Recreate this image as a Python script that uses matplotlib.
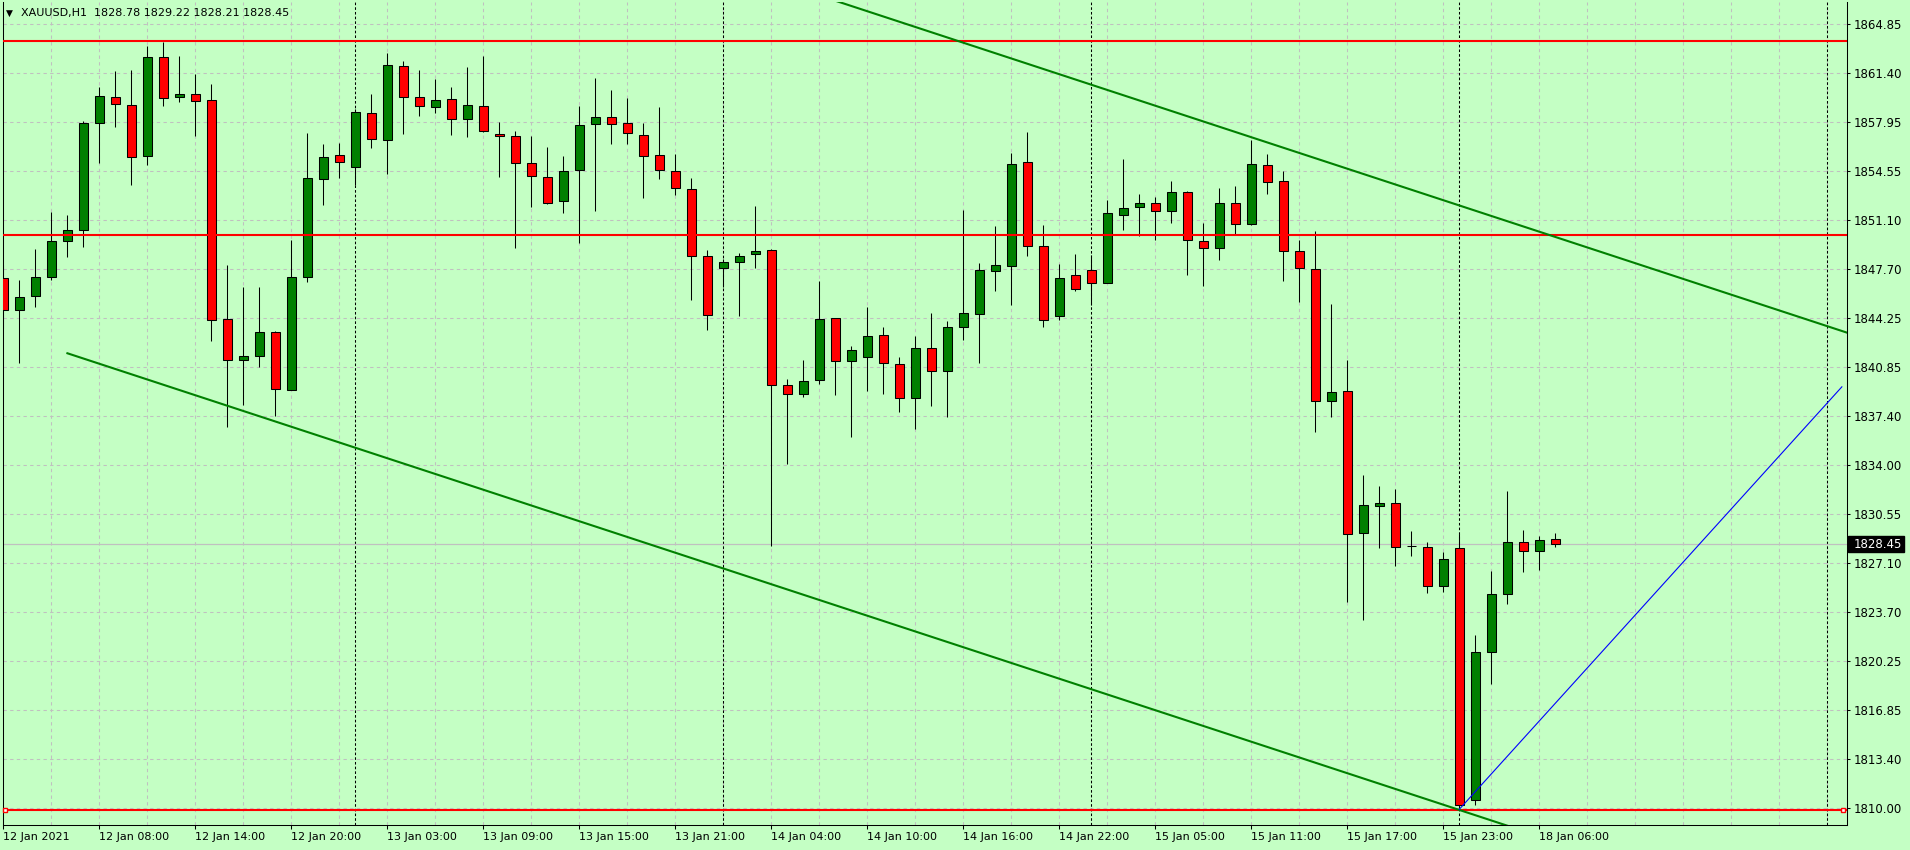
import numpy as np
import matplotlib.pyplot as plt
import matplotlib.transforms as mtransforms
from matplotlib.patches import Rectangle

# XAUUSD H1, 12 Jan 02:00 .. 18 Jan 07:00 (98 bars)
opens = [1847.08, 1844.84, 1845.80, 1847.15, 1849.67, 1850.44, 1857.92, 1859.74, 1859.18, 1855.61,
         1862.54, 1859.74, 1859.95, 1859.53, 1844.21, 1841.34, 1841.62, 1843.30, 1839.24, 1847.15,
         1854.00, 1855.68, 1854.84, 1858.62, 1856.73, 1861.91, 1859.74, 1859.04, 1859.60, 1858.20,
         1859.12, 1857.17, 1857.03, 1855.14, 1854.15, 1852.42, 1854.64, 1857.87, 1858.35, 1857.94,
         1857.10, 1855.70, 1854.52, 1853.31, 1848.63, 1847.78, 1848.19, 1848.77, 1849.04, 1839.57,
         1838.96, 1839.94, 1844.28, 1841.27, 1841.55, 1843.09, 1841.06, 1838.68, 1842.18, 1840.57,
         1843.65, 1844.56, 1847.57, 1847.92, 1855.19, 1849.31, 1844.42, 1847.29, 1847.64, 1846.73,
         1851.49, 1852.05, 1852.33, 1851.77, 1853.10, 1849.67, 1849.18, 1852.33, 1850.86, 1854.99,
         1853.87, 1848.97, 1847.71, 1838.48, 1839.18, 1829.24, 1831.13, 1831.34, 1828.29, 1828.24,
         1825.51, 1828.17, 1810.54, 1820.90, 1824.95, 1828.59, 1827.96, 1828.78]
highs = [1848.01, 1846.96, 1849.13, 1851.72, 1851.51, 1858.06, 1860.46, 1861.56, 1861.65, 1863.29,
         1863.60, 1862.63, 1861.35, 1860.65, 1848.01, 1846.43, 1846.47, 1843.39, 1849.76, 1857.22,
         1856.45, 1856.52, 1858.90, 1859.97, 1862.84, 1862.26, 1861.63, 1861.00, 1860.44, 1861.80,
         1862.60, 1857.97, 1857.34, 1856.98, 1856.21, 1855.63, 1859.08, 1861.06, 1860.21, 1859.66,
         1857.90, 1859.01, 1855.72, 1854.03, 1849.06, 1848.40, 1848.84, 1852.08, 1849.11, 1840.01,
         1841.36, 1846.89, 1844.30, 1842.32, 1845.07, 1843.65, 1841.57, 1843.04, 1844.65, 1844.09,
         1851.86, 1848.15, 1850.74, 1855.82, 1857.31, 1850.81, 1848.08, 1848.78, 1848.71, 1852.49,
         1855.41, 1852.96, 1852.75, 1853.87, 1853.17, 1850.93, 1853.38, 1853.52, 1856.69, 1855.76,
         1854.57, 1849.74, 1850.37, 1845.27, 1841.35, 1833.30, 1832.49, 1832.32, 1829.38, 1828.59,
         1827.92, 1829.13, 1822.11, 1826.59, 1832.18, 1829.45, 1829.03, 1829.22]
lows = [1843.58, 1841.11, 1845.03, 1846.96, 1848.52, 1849.22, 1855.10, 1857.62, 1853.56, 1854.96,
        1859.11, 1859.39, 1856.99, 1842.65, 1836.61, 1838.15, 1840.83, 1837.40, 1839.20, 1846.78,
        1852.16, 1854.05, 1853.56, 1856.15, 1854.33, 1857.13, 1858.39, 1858.60, 1857.06, 1856.92,
        1857.30, 1854.13, 1849.16, 1852.03, 1852.25, 1851.62, 1849.49, 1851.74, 1856.45, 1856.45,
        1852.66, 1853.98, 1852.87, 1845.54, 1843.44, 1846.43, 1844.38, 1847.76, 1828.30, 1834.02,
        1838.73, 1839.64, 1838.87, 1835.93, 1839.15, 1838.94, 1837.68, 1836.49, 1838.10, 1837.33,
        1842.76, 1841.11, 1846.14, 1845.16, 1848.59, 1843.62, 1844.14, 1846.14, 1845.19, 1846.70,
        1850.44, 1850.02, 1849.74, 1850.93, 1847.27, 1846.50, 1848.34, 1850.09, 1850.79, 1852.96,
        1846.85, 1845.38, 1836.29, 1837.36, 1824.39, 1823.13, 1828.17, 1826.91, 1827.59, 1825.00,
        1825.07, 1809.96, 1810.17, 1818.63, 1824.23, 1826.47, 1826.61, 1828.21]
closes = [1844.84, 1845.75, 1847.15, 1849.67, 1850.44, 1857.92, 1859.81, 1859.25, 1855.54, 1862.54,
          1859.67, 1859.95, 1859.46, 1844.14, 1841.34, 1841.62, 1843.30, 1839.31, 1847.15, 1854.07,
          1855.54, 1855.19, 1858.69, 1856.80, 1861.98, 1859.74, 1859.11, 1859.53, 1858.20, 1859.19,
          1857.38, 1857.03, 1855.14, 1854.23, 1852.34, 1854.52, 1857.80, 1858.35, 1857.87, 1857.24,
          1855.63, 1854.59, 1853.38, 1848.63, 1844.47, 1848.19, 1848.63, 1848.96, 1839.57, 1838.96,
          1839.87, 1844.21, 1841.27, 1842.04, 1843.02, 1841.13, 1838.68, 1842.18, 1840.57, 1843.65,
          1844.63, 1847.64, 1847.99, 1855.05, 1849.31, 1844.14, 1847.08, 1846.31, 1846.73, 1851.63,
          1851.98, 1852.33, 1851.77, 1853.10, 1849.74, 1849.18, 1852.33, 1850.86, 1855.06, 1853.80,
          1848.97, 1847.78, 1838.48, 1839.11, 1829.17, 1831.20, 1831.34, 1828.27, 1828.29, 1825.51,
          1827.40, 1810.22, 1820.90, 1824.95, 1828.59, 1827.96, 1828.73, 1828.45]

time_labels = ["12 Jan 2021", "12 Jan 08:00", "12 Jan 14:00", "12 Jan 20:00", "13 Jan 03:00",
               "13 Jan 09:00", "13 Jan 15:00", "13 Jan 21:00", "14 Jan 04:00", "14 Jan 10:00",
               "14 Jan 16:00", "14 Jan 22:00", "15 Jan 05:00", "15 Jan 11:00", "15 Jan 17:00",
               "15 Jan 23:00", "18 Jan 06:00"]
price_labels = ["1810.00", "1813.40", "1816.85", "1820.25", "1823.70", "1827.10", "1830.55",
                "1834.00", "1837.40", "1840.85", "1844.25", "1847.70", "1851.10", "1854.55",
                "1857.95", "1861.40", "1864.85"]

levels = [1863.65, 1850.05, 1809.84]
last_price = 1828.45
separators = [22, 45, 68, 91, 114]
channel_p1 = (4, 1841.8)
channel_p2 = (91, 1809.84)
channel_width = 42.3
blue_p1 = (91, 1809.9)
blue_p2 = (114.9, 1839.45)
header = "XAUUSD,H1  1828.78 1829.22 1828.21 1828.45"

W, H = 1910, 850
bg = "#C4FFC4"
fig = plt.figure(figsize=(W / 100, H / 100), dpi=100)
fig.patch.set_facecolor(bg)
ax = fig.add_axes([2.5 / W, 1 - 825 / H, 1844 / W, 823 / H])
ax.set_facecolor(bg)
ax.set_xlim(-0.056, 115.19)
ax.set_ylim(1808.79, 1866.38)

o = np.array(opens)
h = np.array(highs)
l = np.array(lows)
c = np.array(closes)
x = np.arange(len(o))

# grid
step = (1864.85 - 1810.0) / 16
ygrid = 1810.0 + step * np.arange(17)
for y in ygrid:
    ax.axhline(y, color="#C0C0C0", lw=0.75, ls=(0, (3.2, 3.2)), zorder=1)
for gx in range(3, 116, 3):
    ax.axvline(gx, color="#C0C0C0", lw=0.75, ls=(0, (3.2, 3.2)), zorder=1)
for sx in separators:
    ax.axvline(sx, color="black", lw=0.75, ls=(0, (2.5, 2)), zorder=1.5)

ax.axhline(last_price, color="#C0C0C0", lw=0.9, zorder=1.8)

# candles
ax.vlines(x, l, h, color="black", lw=0.75, zorder=3)
cols = np.where(c >= o, "#008000", "#FF0000")
ax.bar(x, np.abs(c - o), bottom=np.minimum(o, c), width=0.58, color=cols,
       edgecolor="black", linewidth=0.75, zorder=4)

# horizontal levels
for lv in levels:
    ax.axhline(lv, color="#FF0000", lw=1.5, zorder=5)
ax.plot([0.1, 114.95], [levels[2], levels[2]], "s", ms=3.5, mfc="white",
        mec="#FF0000", mew=1, zorder=6, clip_on=False)

# channel
slope = (channel_p2[1] - channel_p1[1]) / (channel_p2[0] - channel_p1[0])
cx = np.array([channel_p1[0], 116.0])
low_line = channel_p1[1] + slope * (cx - channel_p1[0])
ax.plot(cx, low_line, color="#008000", lw=1.5, zorder=5)
ax.plot(cx, low_line + channel_width, color="#008000", lw=1.5, zorder=5)

ax.plot([blue_p1[0], blue_p2[0]], [blue_p1[1], blue_p2[1]], color="#0000FF", lw=0.8, zorder=6)

# axes
ax.yaxis.tick_right()
ax.set_yticks(ygrid, price_labels)
ax.tick_params(axis="y", direction="out", length=2.5, width=0.75, labelsize=8.5, pad=3,
               colors="black")
ax.set_xticks(np.arange(0, 97, 6), time_labels)
ax.tick_params(axis="x", direction="out", length=3, width=0.75, labelsize=8, pad=2,
               colors="black")
for lab in ax.get_xticklabels():
    lab.set_horizontalalignment("left")
for side in ["left", "right", "bottom"]:
    ax.spines[side].set_linewidth(0.75)
    ax.spines[side].set_color("black")
ax.spines["top"].set_visible(False)

# last price box
tr = mtransforms.blended_transform_factory(ax.transAxes, ax.transData)
ax.add_patch(Rectangle((1 + 1 / 1844, last_price - 0.53), 56 / 1844, 1.06, transform=tr,
                       facecolor="black", edgecolor="black", clip_on=False, zorder=10))
ax.text(1 + 7.5 / 1844, last_price, "1828.45", transform=tr, color="white", fontsize=8.5,
        ha="left", va="center", clip_on=False, zorder=11)

# header
fig.text(6 / W, 1 - 13 / H, "\u25BC", fontsize=6.5, va="center", ha="left")
fig.text(20.7 / W, 1 - 13 / H, header, fontsize=8, va="center", ha="left")

fig.savefig("out.png", dpi=100, facecolor=bg)
